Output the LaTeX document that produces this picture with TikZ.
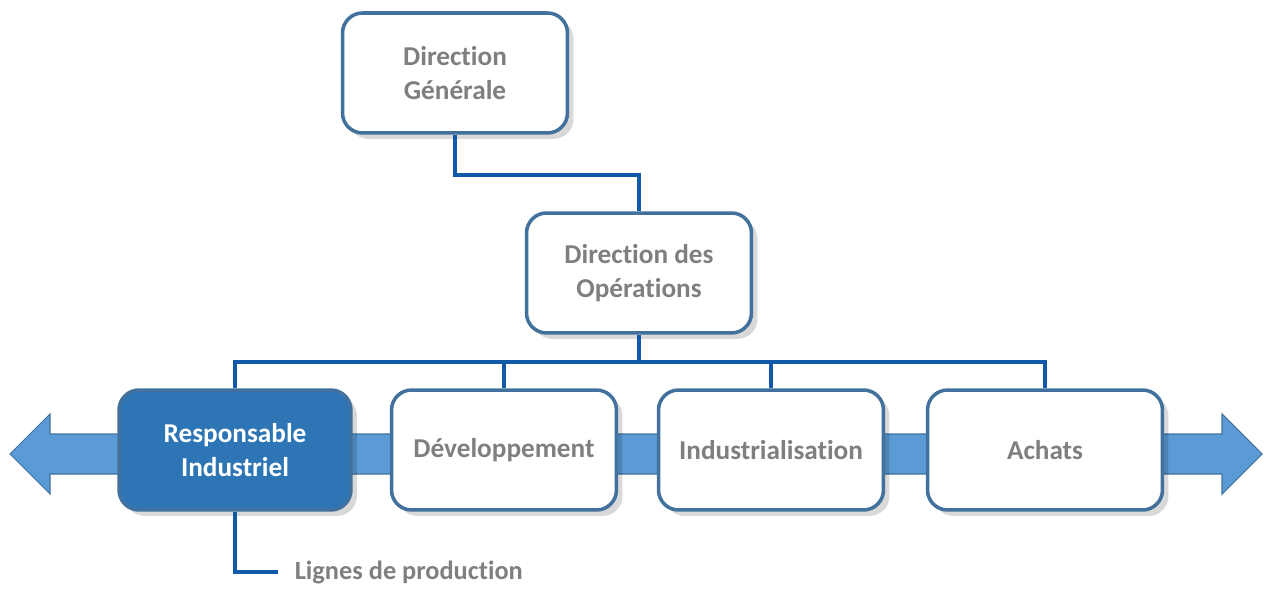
\documentclass[tikz,border=0pt]{standalone}
\usepackage{fontspec}
\setmainfont{Carlito}[Ligatures={NoCommon,NoDiscretionary,NoRequired},Contextuals=NoAlternate]
\usepackage{tikz}
\usetikzlibrary{calc,positioning,shadows}
\definecolor{boxline}{RGB}{65,113,156}
\definecolor{linkblue}{RGB}{16,90,168}
\definecolor{riblue}{RGB}{46,117,182}
\definecolor{arrowblue}{RGB}{91,155,213}
\definecolor{txtgray}{RGB}{127,127,127}
\newcommand{\boxfont}{\fontsize{15.5}{19}\selectfont\bfseries}

\begin{document}
\begin{tikzpicture}[x=0.02cm,y=-0.02cm,
    orgbox/.style={draw=boxline,line width=2pt,fill=white,rounded corners=0.4cm,
      minimum width=4.5cm,minimum height=2.4cm,align=center,text=txtgray,font=\boxfont,
      drop shadow={shadow xshift=0.12cm,shadow yshift=-0.12cm,fill=black,opacity=0.15}},
    link/.style={draw=linkblue,line width=2.1pt}]
    \useasboundingbox (0,0) rectangle (1264,594);
    % double arrow behind the boxes
    \fill[arrowblue,draw=boxline,line width=0.6pt]
      (10,454) -- (50,414) -- (50,434) -- (1222,434) -- (1222,414) -- (1262,454)
      -- (1222,494) -- (1222,474) -- (50,474) -- (50,494) -- cycle;
    % boxes
    \node[orgbox] (dg) at (455,73) {Direction\\Générale};
    \node[orgbox] (do) at (639,273) {Direction des\\Opérations};
    \node[orgbox,fill=riblue,text=white,minimum width=4.64cm] (ri) at (235,450) {Responsable\\Industriel};
    \node[orgbox] (dev) at (504,450) {Développement};
    \node[orgbox] (ind) at (771,450) {Industrialisation};
    \node[orgbox,minimum width=4.7cm] (ach) at (1045,450) {Achats};
    \node[anchor=west,inner xsep=0.33cm,text=txtgray,font=\fontsize{15}{18}\selectfont\bfseries] (lp) at (278,572) {Lignes de production};
    \coordinate (bus) at (639,362);
    % connectors
    \draw[link] (dg.south) -- ++(0,40) -| (do.north);
    \draw[link] (do.south) -- (bus);
    \draw[link] (ri.north) |- (bus) -| (ach.north);
    \draw[link] (dev.north) -- (dev.north |- bus);
    \draw[link] (ind.north) -- (ind.north |- bus);
    \draw[link] (ri.south) |- (lp.west);
\end{tikzpicture}
\end{document}
